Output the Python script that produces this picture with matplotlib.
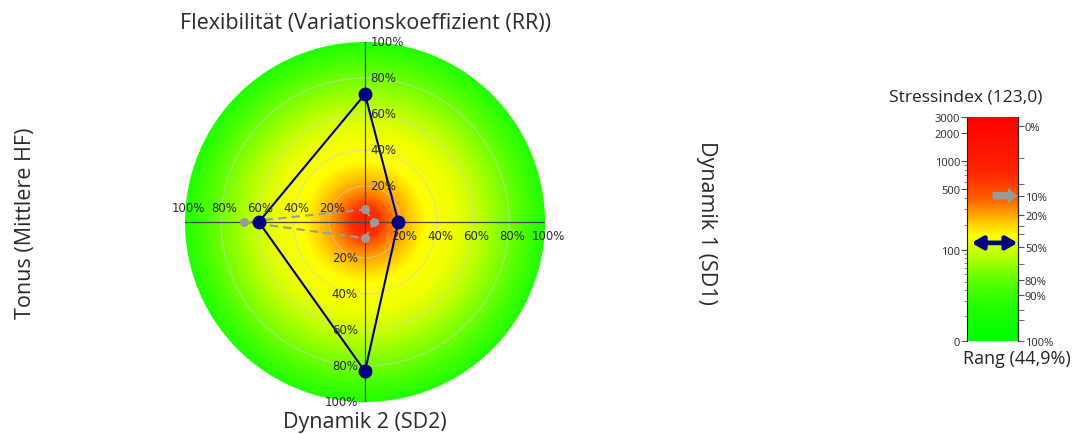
import numpy as np
import matplotlib
matplotlib.use('Agg')
import matplotlib.pyplot as plt
from matplotlib.colors import LinearSegmentedColormap
from matplotlib.patches import Circle

# Daten
achsen = ['Flexibilität (Variationskoeffizient (RR))', 'Dynamik 1 (SD1)',
          'Dynamik 2 (SD2)', 'Tonus (Mittlere HF)']
winkel = [90, 0, 270, 180]            # oben, rechts, unten, links
aktuell = [71, 18.5, 83, 59]          # blaue Kurve (%)
referenz = [7, 5, 9, 67]              # graue Kurve (%)
ring_ticks = [20, 40, 60, 80, 100]

stress_wert = 123.0
stress_rang = 44.9
stress_ref = 420.0
stress_ticks = [0, 100, 500, 1000, 2000, 3000]
stress_minor = [10, 20, 30, 40, 50, 60, 70, 80, 90, 200, 300, 400, 600, 700, 800, 900]
rang_labels = ['0%', '10%', '20%', '50%', '80%', '90%', '100%']
rang_werte = [2400, 412, 255, 111, 42, 25, 0]
rang_minor = [1090, 570, 193, 154, 69, 14, 8]

W, H = 1081, 435
fig = plt.figure(figsize=(W / 100, H / 100), dpi=100)
TXT = '#2a2a2a'
TITEL = 'Open Sans'


def box(x0, y0, x1, y1):
    return [x0 / W, 1 - y1 / H, (x1 - x0) / W, (y1 - y0) / H]


# ---- Radar ----
ax = fig.add_axes(box(185, 43, 545, 403))
ax.set_xlim(-1, 1)
ax.set_ylim(-1, 1)
ax.axis('off')

radial = LinearSegmentedColormap.from_list('radial', [
    (0.0, '#ff1a00'), (0.08, '#ff3000'), (0.16, '#ff8200'), (0.25, '#ffc800'),
    (0.34, '#ffff00'), (0.50, '#eeff00'), (0.62, '#c6ff00'), (0.76, '#84ff00'),
    (0.90, '#44ff00'), (1.0, '#22ff00')])
g = np.linspace(-1, 1, 700)
gx, gy = np.meshgrid(g, g)
im = ax.imshow(np.hypot(gx, gy), extent=(-1, 1, -1, 1), origin='lower',
               cmap=radial, vmin=0, vmax=1, interpolation='bilinear')
im.set_clip_path(Circle((0, 0), 1, transform=ax.transData))

for r in ring_ticks[:-1]:
    ax.add_patch(Circle((0, 0), r / 100, fill=False, ec='#d0d0d0', lw=0.8, alpha=0.6))
ax.plot([-1, 1], [0, 0], color='#444444', lw=0.9)
ax.plot([0, 0], [-1, 1], color='#444444', lw=0.9)

for r in ring_ticks:
    t = f'{r}%'
    v = r / 100
    ax.text(0.03, v, t, ha='left', va='center', fontsize=8.5, color=TXT)
    ax.text(-0.04, -v, t, ha='right', va='center', fontsize=8.5, color=TXT)
    ax.text(v + 0.02, -0.04, t, ha='center', va='top', fontsize=8.5, color=TXT, clip_on=False)
    ax.text(-v + 0.02, 0.045, t, ha='center', va='bottom', fontsize=8.5, color=TXT, clip_on=False)


def punkte(werte):
    a = np.radians(winkel)
    v = np.array(werte) / 100
    x, y = v * np.cos(a), v * np.sin(a)
    return np.append(x, x[0]), np.append(y, y[0])


rx, ry = punkte(referenz)
ax.plot(rx, ry, '--', color='#9a9a9a', lw=1.5, dashes=(4, 2.5))
ax.plot(rx[:-1], ry[:-1], 'o', color='#9a9a9a', ms=5.5)
cx, cy = punkte(aktuell)
ax.plot(cx, cy, '-', color='#000080', lw=1.5)
ax.plot(cx[:-1], cy[:-1], 'o', color='#000080', ms=9)

ax.text(0, 1.11, achsen[0], ha='center', va='center', fontsize=15.5, family=TITEL, color=TXT)
ax.text(1.9, 0, achsen[1], ha='center', va='center', fontsize=15.5, family=TITEL,
        color=TXT, rotation=-90)
ax.text(0, -1.11, achsen[2], ha='center', va='center', fontsize=15.5, family=TITEL, color=TXT)
ax.text(-1.885, 0, achsen[3], ha='center', va='center', fontsize=15.5, family=TITEL,
        color=TXT, rotation=90)

# ---- Stressindex-Balken ----
bx = fig.add_axes(box(967, 118, 1018, 342))
fwd = lambda v: np.log10(np.clip(v, -11.9, None) + 12)
inv = lambda t: 10 ** t - 12
bx.set_yscale('function', functions=(fwd, inv))
bx.set_ylim(0, 3000)
bx.set_xlim(0, 1)

balken = LinearSegmentedColormap.from_list('balken', [
    (0.0, '#00ff00'), (0.15, '#22ff00'), (0.27, '#5cff00'), (0.40, '#c8ff00'),
    (0.47, '#ffff00'), (0.52, '#ffd200'), (0.57, '#ffa000'), (0.64, '#ff5a00'),
    (0.76, '#ff2400'), (1.0, '#ff0000')])
bx.imshow(np.linspace(0, 1, 400).reshape(-1, 1), aspect='auto', cmap=balken,
          origin='lower', extent=(0, 1, 0, 1), transform=bx.transAxes)

for s in ['top', 'bottom']:
    bx.spines[s].set_visible(False)
bx.spines['left'].set_color('#222222')
bx.spines['right'].set_color('#222222')
bx.set_xticks([])
bx.set_yticks(stress_ticks)
bx.set_yticklabels([str(t) for t in stress_ticks], fontsize=8, family=TITEL, color=TXT)
bx.set_yticks(stress_minor, minor=True)
bx.tick_params(axis='y', which='major', length=4, color='#555555', pad=1)
bx.tick_params(axis='y', which='minor', length=2, color='#777777')

rx2 = bx.twinx()
rx2.set_yscale('function', functions=(fwd, inv))
rx2.set_ylim(0, 3000)
for s in ['top', 'bottom', 'left']:
    rx2.spines[s].set_visible(False)
rx2.spines['right'].set_color('#222222')
rx2.set_yticks(rang_werte)
rx2.set_yticklabels(rang_labels, fontsize=8, family=TITEL, color=TXT)
rx2.set_yticks(rang_minor, minor=True)
rx2.set_yticklabels([], minor=True)
rx2.tick_params(axis='y', which='both', length=4, color='#555555', pad=1)

bx.annotate('', xy=(0.99, stress_ref), xytext=(0.5, stress_ref),
            xycoords=('axes fraction', 'data'),
            arrowprops=dict(arrowstyle='simple,head_length=0.7,head_width=1.1,tail_width=0.55',
                            mutation_scale=10, color='#9a9a9a', lw=0, shrinkA=0, shrinkB=0))
bx.annotate('', xy=(0.99, stress_wert), xytext=(0.09, stress_wert),
            xycoords=('axes fraction', 'data'),
            arrowprops=dict(arrowstyle='<|-|>,head_length=0.65,head_width=0.38',
                            color='#000080', lw=3.4, shrinkA=0, shrinkB=0))

fig.text(966 / W, 1 - 97 / H, f'Stressindex ({stress_wert:.1f})'.replace('.', ','),
         ha='center', va='center', fontsize=12.5, family=TITEL, color='#222222')
fig.text(1017 / W, 1 - 359 / H, f'Rang ({stress_rang:.1f}%)'.replace('.', ','),
         ha='center', va='center', fontsize=13, family=TITEL, color='#222222')

fig.savefig('out.png', dpi=100)
